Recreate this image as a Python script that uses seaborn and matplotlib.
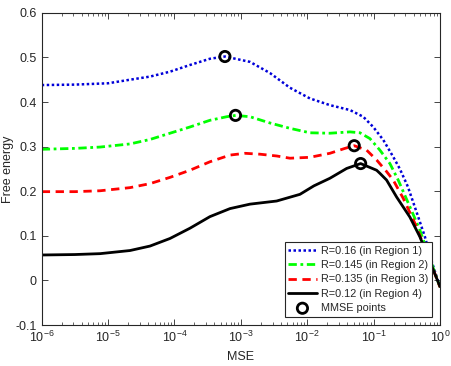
import numpy as np
import pandas as pd
import matplotlib
matplotlib.use("Agg")
import matplotlib.pyplot as plt
from matplotlib.ticker import LogLocator, NullFormatter
import seaborn as sns

# ---- data (x given as log10(MSE)) ----
blue_logx = [-6, -5.5, -5, -4.67, -4.369, -4.068, -3.767, -3.466, -3.24, -2.863,
             -2.562, -2.261, -1.96, -1.659, -1.357, -1.157, -1.006, -0.855, -0.705,
             -0.605, -0.484, -0.33, -0.228, -0.12, 0]
blue_y = [0.438, 0.439, 0.442, 0.450, 0.457, 0.468, 0.483, 0.497, 0.502, 0.490,
          0.465, 0.432, 0.408, 0.393, 0.382, 0.367, 0.344, 0.315, 0.277,
          0.250, 0.210, 0.143, 0.098, 0.040, -0.015]

green_logx = [-6, -5.5, -5.12, -4.67, -4.369, -4.068, -3.767, -3.466, -3.214, -3.078,
              -2.863, -2.562, -2.261, -1.96, -1.659, -1.357, -1.206, -1.056, -0.905,
              -0.755, -0.63, -0.41, -0.304, -0.152, 0]
green_y = [0.294, 0.296, 0.299, 0.306, 0.316, 0.330, 0.344, 0.359, 0.367, 0.370,
           0.367, 0.353, 0.341, 0.331, 0.330, 0.333, 0.331, 0.318, 0.292,
           0.262, 0.225, 0.150, 0.113, 0.048, -0.015]

red_logx = [-6, -5.5, -5.12, -4.67, -4.369, -4.068, -3.767, -3.466, -3.164, -2.938,
            -2.712, -2.461, -2.261, -1.96, -1.659, -1.433, -1.292, -1.105, -0.955,
            -0.805, -0.705, -0.554, -0.378, -0.2, 0]
red_y = [0.199, 0.199, 0.201, 0.208, 0.217, 0.231, 0.247, 0.266, 0.281, 0.285,
         0.283, 0.279, 0.274, 0.276, 0.285, 0.296, 0.302, 0.292, 0.270,
         0.244, 0.225, 0.184, 0.128, 0.062, -0.015]

black_logx = [-6, -5.5, -5.12, -4.67, -4.369, -4.068, -3.767, -3.466, -3.164, -2.863,
              -2.461, -2.11, -1.9, -1.659, -1.407, -1.196, -0.955, -0.905, -0.805,
              -0.654, -0.454, -0.304, 0]
black_y = [0.057, 0.058, 0.060, 0.067, 0.077, 0.094, 0.117, 0.143, 0.161, 0.171,
           0.178, 0.193, 0.212, 0.229, 0.251, 0.262, 0.247, 0.240, 0.225,
           0.187, 0.142, 0.098, -0.014]

mmse_x = [5.75e-4, 8.3e-4, 0.051, 0.0637]
mmse_y = [0.502, 0.370, 0.302, 0.262]

labels = ["R=0.16 (in Region 1)", "R=0.145 (in Region 2)",
          "R=0.135 (in Region 3)", "R=0.12 (in Region 4)"]
ytick_vals = [-0.1, 0, 0.1, 0.2, 0.3, 0.4, 0.5, 0.6]
ytick_labels = ["-0.1", "0", "0.1", "0.2", "0.3", "0.4", "0.5", "0.6"]

sns.set_theme(style="ticks")
plt.rcParams["font.family"] = ["Liberation Sans", "DejaVu Sans"]
plt.rcParams["axes.edgecolor"] = "#262626"
plt.rcParams["xtick.color"] = "#262626"
plt.rcParams["ytick.color"] = "#262626"

fig = plt.figure(figsize=(4.52, 3.66), dpi=100)
ax = fig.add_axes([0.0923, 0.112, 0.8812, 0.853])

series = [
    (blue_logx, blue_y, (0, 0, 0.85), (0, (1, 1)), 1.8, labels[0]),
    (green_logx, green_y, (0, 1, 0), (0, (3, 1.3, 1, 1.3)), 2, labels[1]),
    (red_logx, red_y, (1, 0, 0), (0, (3, 2)), 2, labels[2]),
    (black_logx, black_y, (0, 0, 0), "-", 2, labels[3]),
]
for lx, yy, col, ls, lw, lab in series:
    df = pd.DataFrame({"MSE": np.power(10.0, lx), "F": yy})
    sns.lineplot(data=df, x="MSE", y="F", ax=ax, color=col, linestyle=ls,
                 linewidth=lw, label=lab, sort=False)

sns.scatterplot(x=mmse_x, y=mmse_y, ax=ax, marker="o", s=55,
                facecolors="none", edgecolors="black", linewidths=2,
                label="MMSE points", zorder=5)

ax.set_xscale("log")
ax.set_xlim(1e-6, 1)
ax.set_ylim(-0.1, 0.6)
ax.set_yticks(ytick_vals)
ax.set_yticklabels(ytick_labels)
ax.xaxis.set_major_locator(LogLocator(base=10, numticks=20))
ax.xaxis.set_minor_locator(LogLocator(base=10, subs=np.arange(2, 10), numticks=100))
ax.xaxis.set_minor_formatter(NullFormatter())
ax.tick_params(which="both", direction="in", top=True, right=True, labelsize=9,
               labelcolor="#262626")
ax.tick_params(which="major", length=4, width=0.6)
ax.tick_params(which="minor", length=2.2, width=0.5)
for s in ax.spines.values():
    s.set_linewidth(0.8)
ax.set_xlabel("MSE", fontsize=9, color="#262626", labelpad=4)
ax.set_ylabel("Free energy", fontsize=9, color="#262626", labelpad=1)

leg = ax.legend(loc="lower right", fontsize=7.8, frameon=True, fancybox=False,
                edgecolor="#262626", framealpha=1, borderaxespad=0.75,
                handlelength=2.6, handletextpad=0.4, labelspacing=0.4,
                borderpad=0.35)
leg.get_frame().set_linewidth(0.8)

fig.savefig("out.png", dpi=100)
